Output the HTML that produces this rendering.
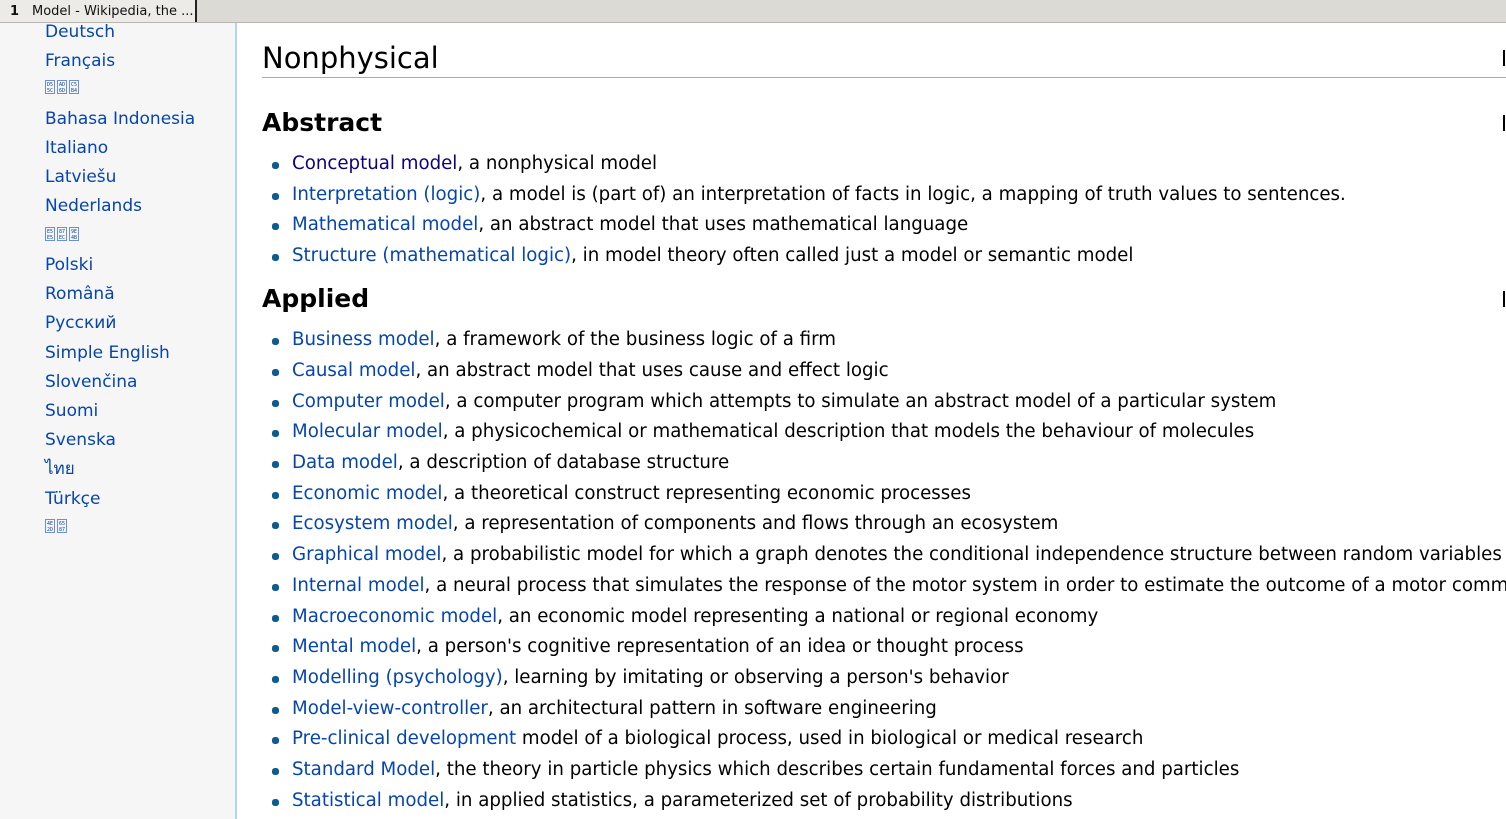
<!DOCTYPE html>
<html><head><meta charset="utf-8"><style>
*{margin:0;padding:0;box-sizing:border-box}
body{width:1506px;height:819px;overflow:hidden;background:#fff;font-family:"DejaVu Sans","Liberation Sans","Noto Sans CJK SC",sans-serif;position:relative}
#tabbar{position:absolute;left:0;top:0;width:1506px;height:23px;background:#dcdad5;border-bottom:1px solid #b8b5ae}
#tab{position:absolute;left:0;top:0;width:197px;height:22px;background:#edebe7;border-right:2px solid #222;font-size:13px;line-height:24px;color:#111}
#side{position:absolute;left:0;top:23px;width:237px;height:796px;background:#f6f6f6;border-right:2px solid #a7d7f9}
.lang{position:absolute;left:45px;font-size:17px;line-height:24px;color:#0645ad;white-space:nowrap}
.hex{display:inline-block;width:10px;height:14px;border:1px solid #6b8fcf;margin-right:2px;font-size:5px;line-height:6px;text-align:center;color:#0645ad;vertical-align:middle;padding-top:1px;font-family:"DejaVu Sans Mono",monospace}
.h1{position:absolute;left:262px;top:38px;font-size:29px;line-height:40px;color:#000}
.rule{position:absolute;left:262px;top:77px;width:1244px;height:1px;background:#aaa}
.h2{position:absolute;left:262px;font-size:25px;font-weight:bold;line-height:32px;color:#000}
.edit{position:absolute;left:1503px;width:2px;height:16px;background:#000}
.li{position:absolute;left:292px;font-size:18.2px;line-height:24px;color:#000;white-space:nowrap}
.li::before{content:"";position:absolute;left:-20px;top:10px;width:7px;height:7px;border-radius:40%;background:#0b5d91}
.li a{color:#0645ad;text-decoration:none}
.li a.v{color:#0b0080}
</style></head><body>
<div id="tabbar">
 <div id="tab"><span style="position:absolute;left:10px;font-weight:bold">1</span><span style="position:absolute;left:32px">Model - Wikipedia, the ...</span></div>
</div>
<div id="side"></div>
<div class="lang" style="top:20px">Deutsch</div>
<div class="lang" style="top:49px">Français</div>
<div class="lang" style="top:75px"><span class="hex">D5<br>5C</span><span class="hex">AD<br>6D</span><span class="hex">C5<br>B4</span></div>
<div class="lang" style="top:107px">Bahasa Indonesia</div>
<div class="lang" style="top:136px">Italiano</div>
<div class="lang" style="top:165px">Latviešu</div>
<div class="lang" style="top:194px">Nederlands</div>
<div class="lang" style="top:222px"><span class="hex">E5<br>E5</span><span class="hex">87<br>EC</span><span class="hex">9E<br>4B</span></div>
<div class="lang" style="top:253px">Polski</div>
<div class="lang" style="top:282px">Română</div>
<div class="lang" style="top:311px">Русский</div>
<div class="lang" style="top:341px">Simple English</div>
<div class="lang" style="top:370px">Slovenčina</div>
<div class="lang" style="top:399px">Suomi</div>
<div class="lang" style="top:428px">Svenska</div>
<div class="lang" style="top:457px">ไทย</div>
<div class="lang" style="top:487px">Türkçe</div>
<div class="lang" style="top:514px"><span class="hex">4E<br>2D</span><span class="hex">65<br>87</span></div>

<div class="h1">Nonphysical</div>
<div class="rule"></div>
<div class="edit" style="top:50px"></div>
<div class="h2" style="top:107px">Abstract</div>
<div class="edit" style="top:115px"></div>
<div class="li" style="top:152px"><a class="v" href="#">Conceptual model</a>, a nonphysical model</div>
<div class="li" style="top:183px"><a href="#">Interpretation (logic)</a>, a model is (part of) an interpretation of facts in logic, a mapping of truth values to sentences.</div>
<div class="li" style="top:213px"><a href="#">Mathematical model</a>, an abstract model that uses mathematical language</div>
<div class="li" style="top:244px"><a href="#">Structure (mathematical logic)</a>, in model theory often called just a model or semantic model</div>
<div class="h2" style="top:283px">Applied</div>
<div class="edit" style="top:291px"></div>
<div class="li" style="top:328px"><a href="#">Business model</a>, a framework of the business logic of a firm</div>
<div class="li" style="top:359px"><a href="#">Causal model</a>, an abstract model that uses cause and effect logic</div>
<div class="li" style="top:390px"><a href="#">Computer model</a>, a computer program which attempts to simulate an abstract model of a particular system</div>
<div class="li" style="top:420px"><a href="#">Molecular model</a>, a physicochemical or mathematical description that models the behaviour of molecules</div>
<div class="li" style="top:451px"><a href="#">Data model</a>, a description of database structure</div>
<div class="li" style="top:482px"><a href="#">Economic model</a>, a theoretical construct representing economic processes</div>
<div class="li" style="top:512px"><a href="#">Ecosystem model</a>, a representation of components and flows through an ecosystem</div>
<div class="li" style="top:543px"><a href="#">Graphical model</a>, a probabilistic model for which a graph denotes the conditional independence structure between random variables</div>
<div class="li" style="top:574px"><a href="#">Internal model</a>, a neural process that simulates the response of the motor system in order to estimate the outcome of a motor command</div>
<div class="li" style="top:605px"><a href="#">Macroeconomic model</a>, an economic model representing a national or regional economy</div>
<div class="li" style="top:635px"><a href="#">Mental model</a>, a person's cognitive representation of an idea or thought process</div>
<div class="li" style="top:666px"><a href="#">Modelling (psychology)</a>, learning by imitating or observing a person's behavior</div>
<div class="li" style="top:697px"><a href="#">Model-view-controller</a>, an architectural pattern in software engineering</div>
<div class="li" style="top:727px"><a href="#">Pre-clinical development</a> model of a biological process, used in biological or medical research</div>
<div class="li" style="top:758px"><a href="#">Standard Model</a>, the theory in particle physics which describes certain fundamental forces and particles</div>
<div class="li" style="top:789px"><a href="#">Statistical model</a>, in applied statistics, a parameterized set of probability distributions</div>
</body></html>
